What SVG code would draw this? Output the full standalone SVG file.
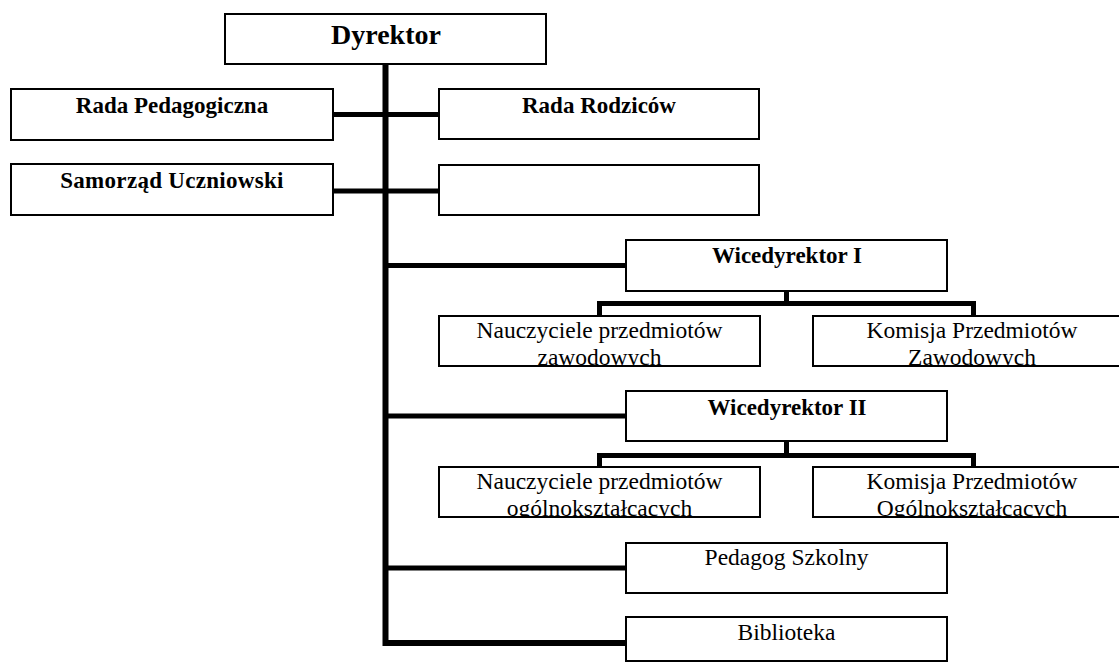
<svg xmlns="http://www.w3.org/2000/svg" width="1119" height="662" viewBox="0 0 1119 662">
<style>
.box{fill:#fff;stroke:#000;stroke-width:2}
.b{font-family:"Liberation Serif","Times New Roman",serif;font-weight:bold;font-size:23px;text-anchor:middle;fill:#000}
.big{font-size:28px}
.r{font-family:"Liberation Serif","Times New Roman",serif;font-size:23.5px;text-anchor:middle;fill:#000}
.c{fill:none;stroke:#000;stroke-linejoin:miter}
</style>
<defs>
<clipPath id="cl1"><rect x="439" y="316" width="321" height="50"/></clipPath>
<clipPath id="cl2"><rect x="813" y="316" width="320" height="50"/></clipPath>
<clipPath id="cl3"><rect x="439" y="467" width="321" height="50"/></clipPath>
<clipPath id="cl4"><rect x="813" y="467" width="320" height="50"/></clipPath>
</defs>
<rect width="1119" height="662" fill="#fff"/>
<g id="connectors">
<path class="c" stroke-width="6" d="M385.5 64 V643 H626"/>
<path class="c" stroke-width="5" d="M333 114.5 H439"/>
<path class="c" stroke-width="5" d="M333 191 H439"/>
<path class="c" stroke-width="5" d="M385 265.5 H626"/>
<path class="c" stroke-width="5" d="M385 416 H626"/>
<path class="c" stroke-width="5" d="M385 568 H626"/>
<path class="c" stroke-width="5" d="M786.5 291 V303.5"/>
<path class="c" stroke-width="5" d="M599.5 316 V303.5 H973.5 V316"/>
<path class="c" stroke-width="5" d="M786.5 441 V455.5"/>
<path class="c" stroke-width="5" d="M599.5 467 V455.5 H973.5 V467"/>
</g>
<g id="dyrektor"><rect class="box" x="225" y="14" width="321" height="50"/><text class="b big" x="386" y="44">Dyrektor</text></g>
<g id="rada-pedagogiczna"><rect class="box" x="11" y="89" width="322" height="51"/><text class="b" x="172" y="113">Rada Pedagogiczna</text></g>
<g id="rada-rodzicow"><rect class="box" x="439" y="89" width="320" height="50"/><text class="b" x="599" y="113">Rada Rodziców</text></g>
<g id="samorzad"><rect class="box" x="11" y="164" width="322" height="51"/><text class="b" x="172" y="188" letter-spacing="0.3">Samorząd Uczniowski</text></g>
<g id="pusty"><rect class="box" x="439" y="165" width="320" height="50"/></g>
<g id="wicedyrektor-1"><rect class="box" x="626" y="240" width="321" height="51"/><text class="b" x="787" y="263">Wicedyrektor I</text></g>
<g id="nauczyciele-zaw"><rect class="box" x="439" y="316" width="321" height="50"/><g clip-path="url(#cl1)"><text class="r" x="599.5" y="338">Nauczyciele przedmiotów</text><text class="r" x="599.5" y="365">zawodowych</text></g></g>
<g id="komisja-zaw"><rect class="box" x="813" y="316" width="320" height="50"/><g clip-path="url(#cl2)"><text class="r" x="972" y="338">Komisja Przedmiotów</text><text class="r" x="972" y="365">Zawodowych</text></g></g>
<g id="wicedyrektor-2"><rect class="box" x="626" y="391" width="321" height="50"/><text class="b" x="787" y="415">Wicedyrektor II</text></g>
<g id="nauczyciele-ogol"><rect class="box" x="439" y="467" width="321" height="50"/><g clip-path="url(#cl3)"><text class="r" x="599.5" y="489">Nauczyciele przedmiotów</text><text class="r" x="599.5" y="516">ogólnokształcacych</text></g></g>
<g id="komisja-ogol"><rect class="box" x="813" y="467" width="320" height="50"/><g clip-path="url(#cl4)"><text class="r" x="972" y="489">Komisja Przedmiotów</text><text class="r" x="972" y="516">Ogólnokształcacych</text></g></g>
<g id="pedagog"><rect class="box" x="626" y="543" width="321" height="50"/><text class="r" x="786.5" y="565">Pedagog Szkolny</text></g>
<g id="biblioteka"><rect class="box" x="626" y="617" width="321" height="44"/><text class="r" x="786.5" y="640">Biblioteka</text></g>
</svg>
